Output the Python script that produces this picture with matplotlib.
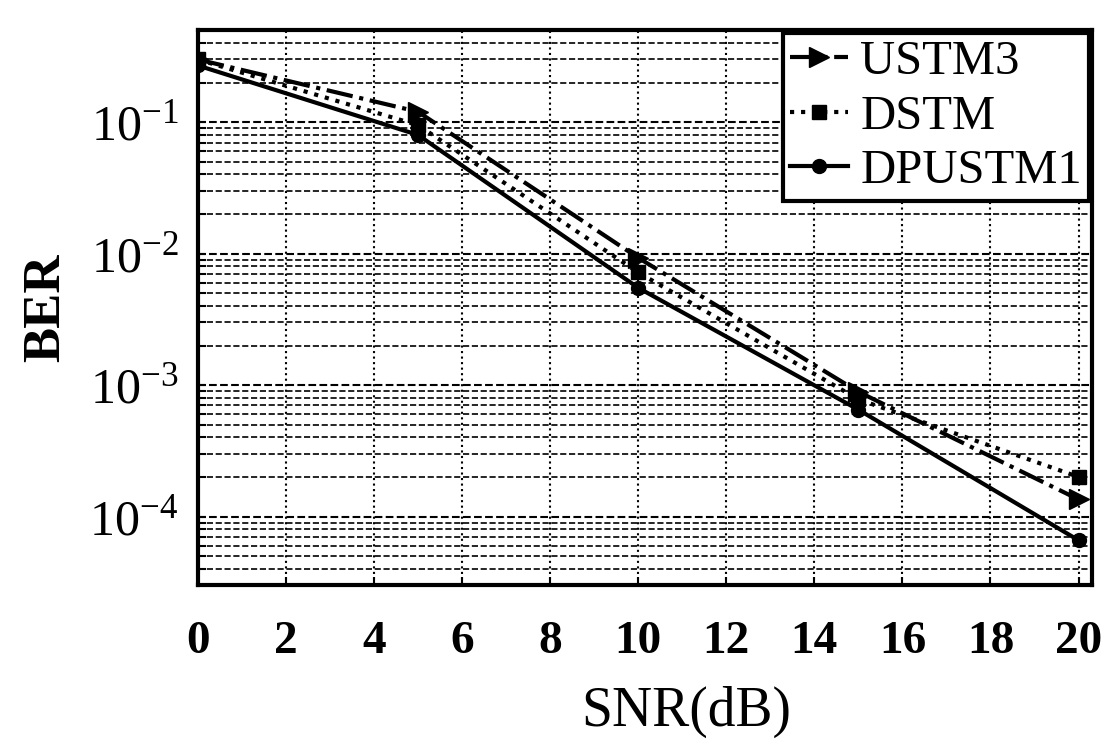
import matplotlib
matplotlib.use("Agg")
import matplotlib.pyplot as plt
from matplotlib.ticker import LogLocator, NullFormatter

plt.rcParams['font.family'] = ['Liberation Serif', 'DejaVu Serif']
plt.rcParams['mathtext.fontset'] = 'custom'
plt.rcParams['mathtext.rm'] = 'Liberation Serif'
plt.rcParams['mathtext.it'] = 'Liberation Serif:italic'
plt.rcParams['mathtext.bf'] = 'Liberation Serif:bold'

snr = [0, 5, 10, 15, 20]
ustm3 = [0.30, 0.12, 0.0093, 8.9e-4, 1.35e-4]
dstm = [0.30, 0.095, 0.0072, 7.8e-4, 2.0e-4]
dpustm1 = [0.27, 0.08, 0.0055, 6.5e-4, 6.6e-5]
xticks = list(range(0, 21, 2))
yticks = [1e-4, 1e-3, 1e-2, 1e-1]
ylabels = [r'$10^{-4}$', r'$10^{-3}$', r'$10^{-2}$', r'$10^{-1}$']

fig = plt.figure(figsize=(11.05, 7.39), dpi=100)
ax = fig.add_axes([0.179, 0.208, 0.809, 0.751])

ax.semilogy(snr, ustm3, color='k', linestyle='-.', linewidth=3,
            marker='>', markersize=15, label='USTM3')
ax.semilogy(snr, dstm, color='k', linestyle=':', linewidth=3,
            marker='s', markersize=10, label='DSTM')
ax.semilogy(snr, dpustm1, color='k', linestyle='-', linewidth=3,
            marker='o', markersize=10, label='DPUSTM1')

ax.set_xlim(0, 20.3)
ax.set_ylim(3e-5, 0.5)
ax.set_xticks(xticks)
ax.set_xticklabels([str(t) for t in xticks], fontsize=34, fontweight='bold')
ax.yaxis.set_minor_locator(LogLocator(base=10, subs=range(2, 10), numticks=20))
ax.yaxis.set_minor_formatter(NullFormatter())
ax.set_yticks(yticks)
ax.set_yticklabels(ylabels, fontsize=36)

ax.grid(True, which='major', axis='y', color='k', linestyle='--', linewidth=1.5)
ax.grid(True, which='minor', axis='y', color='k', linestyle='--', linewidth=1.2)
ax.grid(True, which='major', axis='x', color='k', linestyle=':', linewidth=1.5)

ax.tick_params(direction='in', which='both', length=6, width=1.5)
ax.tick_params(axis='x', pad=26)
ax.tick_params(axis='y', pad=14)
for s in ax.spines.values():
    s.set_linewidth(3)

ax.set_xlabel('SNR(dB)', fontsize=40)
ax.xaxis.label.set_va('center')
ax.xaxis.set_label_coords(0.546, -0.229)
ax.set_ylabel('BER', fontsize=38, fontweight='bold', labelpad=14)

leg = ax.legend(loc='upper right', fontsize=35, fancybox=False, framealpha=1,
                edgecolor='k', handlelength=1.2, handletextpad=0.25,
                borderpad=0.15, labelspacing=0.22, borderaxespad=0.05)
leg.get_frame().set_linewidth(3)

fig.savefig('out.png', dpi=100)
